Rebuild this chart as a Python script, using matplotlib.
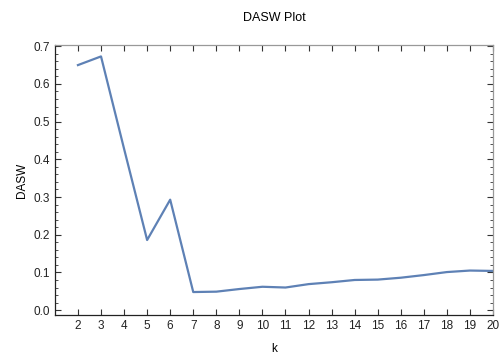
import matplotlib
matplotlib.use("Agg")
import matplotlib.pyplot as plt
from matplotlib.ticker import MultipleLocator

# === Data ===
k_values = list(range(2, 21))
dasw = [0.650, 0.673, 0.428, 0.186, 0.293, 0.048, 0.049, 0.056, 0.062, 0.060,
        0.069, 0.074, 0.080, 0.081, 0.086, 0.093, 0.101, 0.105, 0.104]

plt.rcParams['font.family'] = ['Liberation Sans', 'DejaVu Sans']

fig = plt.figure(figsize=(4.99, 3.58), dpi=100)
ax = fig.add_axes([0.110, 0.120, 0.878, 0.754])

ax.plot(k_values, dasw, color='#5E81B5', linewidth=1.6)

# === Frame and ticks (Mathematica-like) ===
ax.set_xlim(1.0, 20.0)
ax.set_ylim(-0.013, 0.703)
ax.set_xticks(k_values)
ax.yaxis.set_major_locator(MultipleLocator(0.1))
ax.yaxis.set_minor_locator(MultipleLocator(0.02))
ax.yaxis.set_major_formatter(plt.FuncFormatter(lambda v, p: f"{v:.1f}"))
ax.tick_params(axis='both', which='both', direction='in', top=True, right=True,
               labelsize=8.5, labelcolor='#222222', color='#333333')
ax.tick_params(axis='both', which='major', length=4, width=0.8)
ax.tick_params(axis='y', which='minor', length=2.2, width=0.6)
for side, spine in ax.spines.items():
    spine.set_linewidth(0.9)
    spine.set_color('#222222' if side in ('left', 'bottom') else '#999999')

ax.set_title('DASW Plot', fontsize=9, pad=17)
ax.set_xlabel('k', fontsize=8.5, labelpad=8)
ax.set_ylabel('DASW', fontsize=8.5, labelpad=4)

plt.savefig('out.png', dpi=100)
plt.close()
